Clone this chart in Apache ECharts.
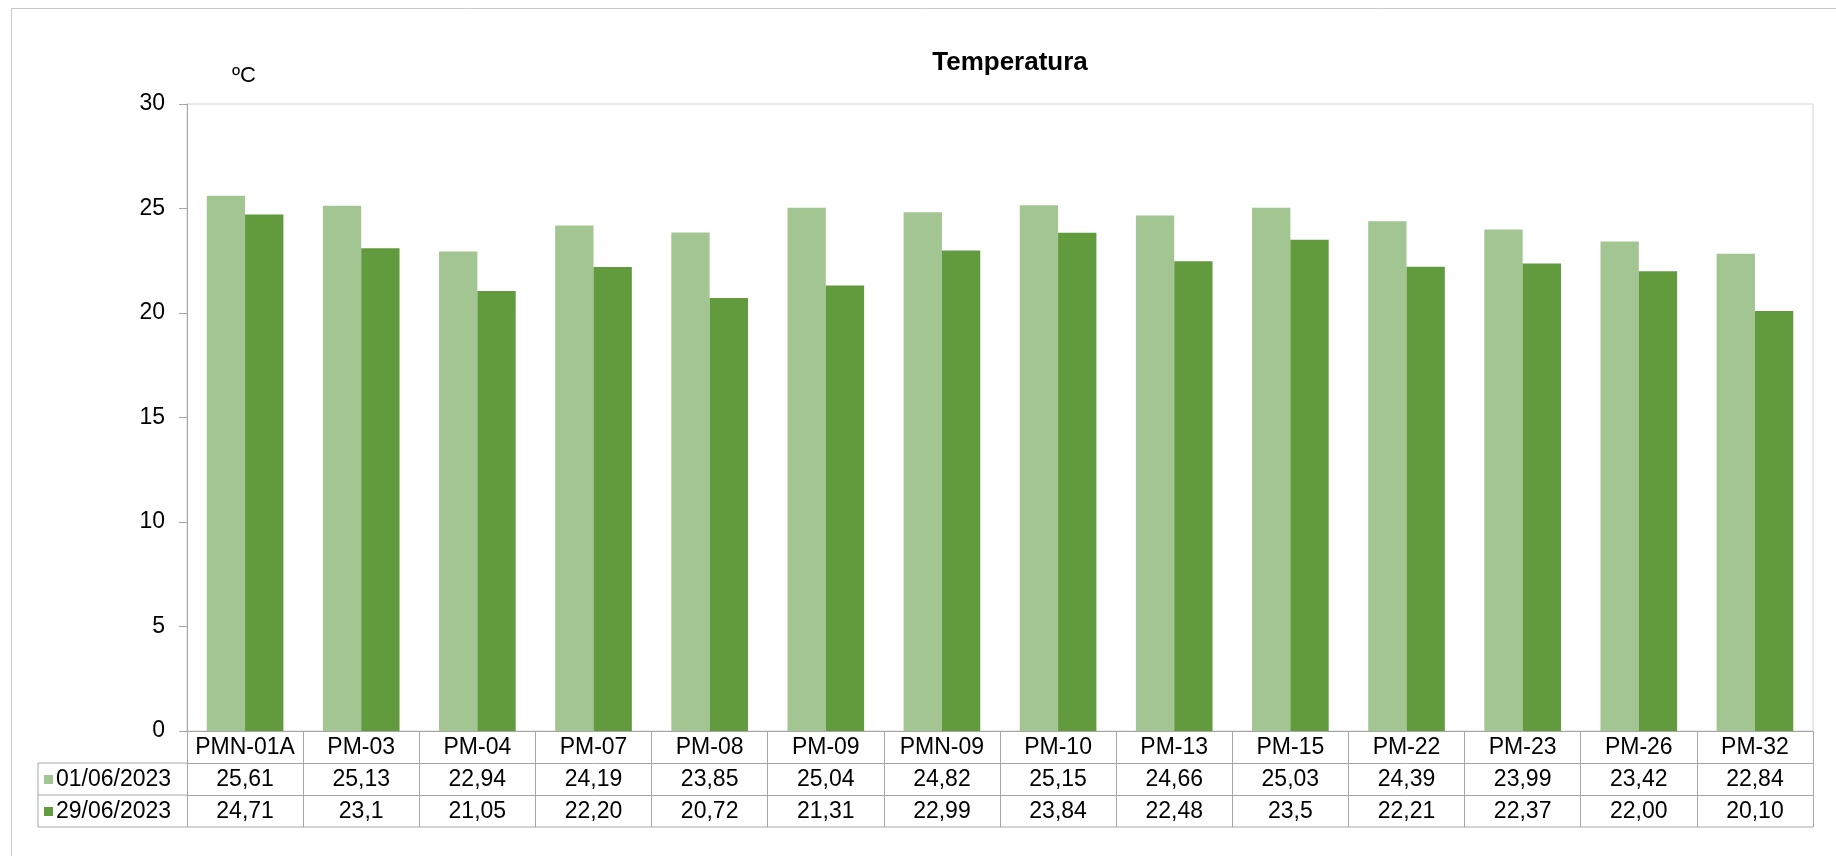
<!DOCTYPE html>
<html>
<head>
<meta charset="utf-8">
<title>Temperatura</title>
<script src="https://cdn.jsdelivr.net/npm/echarts@6/dist/echarts.min.js"></script>
<style>
  html, body { margin: 0; padding: 0; background: #fff; }
  #main { width: 1836px; height: 856px; }
</style>
</head>
<body>
<div id="main"></div>
<script>
// pontos de medição
var pontos = ['PMN-01A', 'PM-03', 'PM-04', 'PM-07', 'PM-08', 'PM-09', 'PMN-09', 'PM-10', 'PM-13', 'PM-15', 'PM-22', 'PM-23', 'PM-26', 'PM-32']
var datas = ['01/06/2023', '29/06/2023']
// valores (ºC)
var temp0106 = [25.61, 25.13, 22.94, 24.19, 23.85, 25.04, 24.82, 25.15, 24.66, 25.03, 24.39, 23.99, 23.42, 22.84]
var temp2906 = [24.71, 23.1, 21.05, 22.20, 20.72, 21.31, 22.99, 23.84, 22.48, 23.5, 22.21, 22.37, 22.00, 20.10]
// texto da tabela de dados, como aparece na planilha
var tab0106 = ['25,61', '25,13', '22,94', '24,19', '23,85', '25,04', '24,82', '25,15', '24,66', '25,03', '24,39', '23,99', '23,42', '22,84']
var tab2906 = ['24,71', '23,1', '21,05', '22,20', '20,72', '21,31', '22,99', '23,84', '22,48', '23,5', '22,21', '22,37', '22,00', '20,10']
var yTicks = [0, 5, 10, 15, 20, 25, 30]

var fonte = 'Liberation Sans, Arial, sans-serif'
var tam = 23
var corClara = '#a3c592'
var corEscura = '#629a3e'
var corLinha = '#a6a6a6'

// layout
var gLeft = 187, gTop = 104, gRight = 1813, gBottom = 731
var linha = 32   // altura das linhas da tabela
var tabLeft = 38

var chart = echarts.init(document.getElementById('main'))

// eixos x empilhados = linhas da tabela
function eixoTabela(idx, textos) {
  return {
    type: 'category',
    gridIndex: 0,
    position: 'bottom',
    offset: idx * linha,
    data: pontos,
    boundaryGap: true,
    axisLine: { show: true, onZero: false, lineStyle: { color: corLinha, width: 1 } },
    axisTick: { show: true, interval: 0, length: linha, lineStyle: { color: corLinha } },
    axisLabel: {
      show: true, interval: 0, margin: linha / 2 + 1,
      verticalAlign: 'middle',
      fontFamily: fonte, fontSize: tam, color: '#000',
      formatter: function (v, i) { return textos ? textos[i] : v }
    },
    splitLine: { show: false }
  }
}

function legendaLinha(i) {
  return {
    data: [datas[i]], left: 44, top: gBottom + (i + 1) * linha + 5, padding: 0,
    orient: 'vertical', icon: 'rect', itemWidth: 9, itemHeight: 9, itemGap: 4,
    selectedMode: false,
    textStyle: { fontFamily: fonte, fontSize: tam, color: '#000', padding: [0, 0, 0, -2] }
  }
}

var option = {
  animation: false,
  backgroundColor: '#fff',
  title: {
    text: 'Temperatura',
    left: 1010, top: 50, textAlign: 'center', padding: 0,
    textStyle: { fontFamily: fonte, fontSize: 26, fontWeight: 'bold', color: '#000' }
  },
  legend: [legendaLinha(0), legendaLinha(1)],
  grid: {
    left: gLeft, top: gTop, right: 1836 - gRight, bottom: 856 - gBottom,
    show: true, borderColor: '#d4d4d4', borderWidth: 1
  },
  xAxis: [
    eixoTabela(0, null),
    eixoTabela(1, tab0106),
    eixoTabela(2, tab2906)
  ],
  yAxis: {
    type: 'value', min: 0, max: 30, interval: 5,
    axisLine: { show: true, lineStyle: { color: corLinha } },
    axisTick: { show: true, length: 8, lineStyle: { color: corLinha } },
    axisLabel: {
      margin: 22, fontFamily: fonte, fontSize: tam, color: '#000',
      formatter: function (v) { return yTicks.indexOf(v) >= 0 ? String(v) : '' }
    },
    splitLine: { show: false }
  },
  series: [
    {
      name: datas[0], type: 'bar', xAxisIndex: 0, data: temp0106,
      itemStyle: { color: corClara }, barGap: '0%', barCategoryGap: '34%'
    },
    {
      name: datas[1], type: 'bar', xAxisIndex: 0, data: temp2906,
      itemStyle: { color: corEscura }, barGap: '0%', barCategoryGap: '34%'
    }
  ],
  graphic: [
    // moldura externa
    { type: 'rect', shape: { x: 11.5, y: 8.5, width: 1900, height: 900 }, style: { fill: 'none', stroke: '#c8c8c8', lineWidth: 1 }, silent: true },
    // unidade
    { type: 'text', left: 232, top: 65, style: { text: 'ºC', fontFamily: fonte, fontSize: 22, fill: '#000' } },
    // coluna da legenda na tabela
    { type: 'line', shape: { x1: tabLeft, y1: gBottom + linha, x2: gLeft, y2: gBottom + linha }, style: { stroke: corLinha } },
    { type: 'line', shape: { x1: tabLeft, y1: gBottom + 2 * linha, x2: gLeft, y2: gBottom + 2 * linha }, style: { stroke: corLinha } },
    { type: 'line', shape: { x1: tabLeft, y1: gBottom + 3 * linha, x2: gRight, y2: gBottom + 3 * linha }, style: { stroke: corLinha } },
    { type: 'line', shape: { x1: tabLeft, y1: gBottom + linha, x2: tabLeft, y2: gBottom + 3 * linha }, style: { stroke: corLinha } }
  ]
}

chart.setOption(option)
</script>
</body>
</html>
